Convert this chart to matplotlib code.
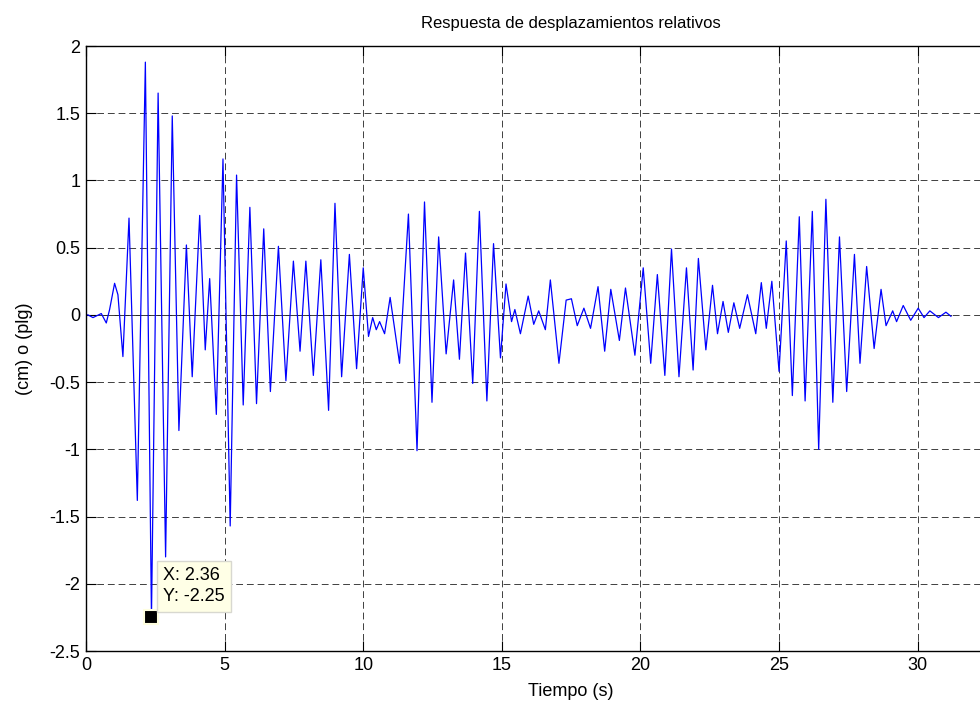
import numpy as np
import matplotlib
matplotlib.use("Agg")
import matplotlib.pyplot as plt

plt.rcParams['font.family'] = ['Liberation Sans', 'DejaVu Sans']

# peaks and troughs of the relative displacement response
tiempo = [0.00, 0.07, 0.25, 0.55, 0.73, 0.85, 1.03, 1.15, 1.33, 1.55, 1.85, 2.14, 2.36,
          2.60, 2.87, 3.11, 3.35, 3.62, 3.83, 4.10, 4.30, 4.46, 4.70, 4.94, 5.20,
          5.43, 5.67, 5.91, 6.15, 6.41, 6.65, 6.94, 7.21, 7.48, 7.72, 7.93, 8.20,
          8.47, 8.75, 8.98, 9.22, 9.50, 9.76, 10.00, 10.19, 10.34, 10.47, 10.59,
          10.77, 10.97, 11.31, 11.63, 11.94, 12.21, 12.48, 12.72, 12.99, 13.26,
          13.47, 13.69, 13.95, 14.19, 14.46, 14.70, 14.95, 15.15, 15.35, 15.47,
          15.67, 15.95, 16.15, 16.33, 16.57, 16.75, 17.06, 17.32, 17.51, 17.72,
          17.96, 18.20, 18.47, 18.71, 18.93, 19.24, 19.46, 19.80, 20.10, 20.37,
          20.61, 20.88, 21.12, 21.39, 21.66, 21.90, 22.09, 22.36, 22.60, 22.78,
          22.98, 23.17, 23.37, 23.58, 23.86, 24.16, 24.36, 24.54, 24.74, 25.00,
          25.26, 25.48, 25.73, 25.94, 26.20, 26.43, 26.69, 26.94, 27.18, 27.44,
          27.72, 27.92, 28.16, 28.43, 28.68, 28.86, 29.10, 29.24, 29.48, 29.75,
          30.02, 30.23, 30.44, 30.75, 31.02, 31.20]
desp = [0.00, 0.00, -0.02, 0.01, -0.06, 0.04, 0.235, 0.15, -0.31, 0.72, -1.38, 1.88, -2.25,
        1.65, -1.80, 1.48, -0.86, 0.52, -0.46, 0.74, -0.26, 0.27, -0.74, 1.16, -1.57,
        1.04, -0.67, 0.80, -0.66, 0.64, -0.57, 0.51, -0.49, 0.40, -0.27, 0.40, -0.45,
        0.41, -0.71, 0.83, -0.46, 0.45, -0.40, 0.35, -0.16, -0.02, -0.11, -0.05,
        -0.14, 0.13, -0.36, 0.75, -1.01, 0.84, -0.65, 0.58, -0.29, 0.26,
        -0.33, 0.46, -0.51, 0.77, -0.64, 0.53, -0.32, 0.23, -0.05, 0.04,
        -0.14, 0.14, -0.07, 0.03, -0.11, 0.26, -0.36, 0.11, 0.12, -0.08,
        0.05, -0.10, 0.21, -0.27, 0.19, -0.19, 0.20, -0.30, 0.35, -0.36,
        0.30, -0.45, 0.49, -0.46, 0.35, -0.41, 0.42, -0.26, 0.22, -0.14,
        0.10, -0.13, 0.09, -0.10, 0.15, -0.14, 0.24, -0.10, 0.25, -0.42,
        0.55, -0.60, 0.73, -0.64, 0.77, -1.00, 0.86, -0.65, 0.58, -0.57,
        0.45, -0.36, 0.36, -0.25, 0.19, -0.08, 0.03, -0.05, 0.07, -0.04,
        0.05, -0.02, 0.03, -0.02, 0.02, -0.01]

tip_x, tip_y = 2.36, -2.25
xticks = [0, 5, 10, 15, 20, 25, 30]
yticks = [-2.5, -2, -1.5, -1, -0.5, 0, 0.5, 1, 1.5, 2]

fig = plt.figure(figsize=(9.8, 7.09), dpi=100)
ax = fig.add_axes([0.0878, 0.0818, 0.99, 0.8533])

ax.plot([tiempo[0], tiempo[-1]], [0, 0], color='black', lw=0.6, zorder=1)
ax.plot(tiempo, desp, color='#0000ff', lw=0.9, zorder=2)

ax.set_xlim(0, 35)
ax.set_ylim(-2.5, 2)
ax.set_xticks(xticks)
ax.set_yticks(yticks)
ax.set_yticklabels([('%g' % v) for v in yticks])

ax.grid(True, color='#404040', linestyle=(0, (7, 4)), linewidth=0.7)
ax.tick_params(direction='in', length=7, width=0.8, top=True, right=True,
               labelsize=13, pad=4)
for s in ax.spines.values():
    s.set_linewidth(1.0)

ax.set_title('Respuesta de desplazamientos relativos', fontsize=12, pad=13)
ax.set_xlabel('Tiempo (s)', fontsize=13, labelpad=7)
ax.set_ylabel('(cm) o (plg)', fontsize=13, labelpad=12)

# data tip
ax.plot([tip_x], [tip_y], marker='s', markersize=10, color='black',
        markeredgecolor='#ffffe0', markeredgewidth=1.5, zorder=5)
ax.annotate('X: %.2f\nY: %.2f' % (tip_x, tip_y), xy=(tip_x, tip_y),
            xytext=(12, 12), textcoords='offset pixels', ha='left', va='bottom',
            fontsize=13, linespacing=1.3, zorder=6,
            bbox=dict(boxstyle='square,pad=0.35', fc='#ffffe6', ec='#d8d8d0', lw=1))

fig.savefig('out.png', dpi=100)
